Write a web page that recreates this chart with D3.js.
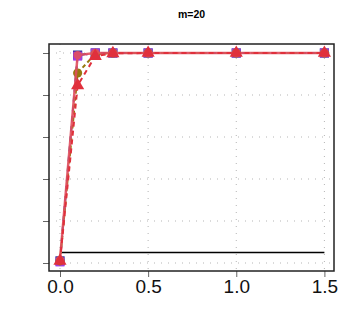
<!DOCTYPE html>
<html>
<head>
<meta charset="utf-8">
<script src="https://cdn.jsdelivr.net/npm/d3@7"></script>
<style>
  body { margin: 0; background: #fff; }
  svg { display: block; font-family: 'Liberation Sans', Arial, sans-serif; }
</style>
</head>
<body>
<div id="chart"></div>
<script>
const title = 'm=20';
const xValues = [0, 0.1, 0.2, 0.3, 0.5, 1.0, 1.5];
const xTicks = [0, 0.5, 1.0, 1.5];
const yTicks = [0, 0.2, 0.4, 0.6, 0.8, 1.0];
const nominalLevel = 0.05;

const blueSquares = [0.01, 0.99, 1, 1, 1, 1, 1];
const purpleSquares = [0.005, 0.985, 1, 1, 1, 1, 1];
const oliveCircles = [0.01, 0.905, 0.995, 1, 1, 1, 1];
const redCircles = [0.015, 0.99, 1, 1, 1, 1, 1];
const redTriangles = [0.01, 0.845, 0.985, 0.998, 1, 1, 1];

// drawing order follows the picture: triangles end up on top
const series = [
  { values: blueSquares, color: '#2b2f8f', shape: d3.symbolSquare, size: 85, dash: '5,5', width: 2, opacity: 1 },
  { values: purpleSquares, color: '#a43be0', shape: d3.symbolSquare, size: 80, dash: '2,3', width: 1.5, opacity: 1 },
  { values: oliveCircles, color: '#96780f', shape: d3.symbolCircle, size: 65, dash: '4,3', width: 2, opacity: 1 },
  { values: redCircles, color: '#e2505e', shape: d3.symbolCircle, size: 55, dash: null, width: 2.5, opacity: 0.9 },
  { values: redTriangles, color: '#e0303c', shape: d3.symbolTriangle, size: 75, dash: '5,4', width: 2, opacity: 1 }
];

const width = 360;
const height = 327;
const box = { left: 49, right: 334, top: 44, bottom: 271 };

const svg = d3.select('#chart')
  .append('svg')
    .attr('width', width)
    .attr('height', height);

const x = d3.scaleLinear().domain([0, 1.5]).range([60, 324.4]);
const y = d3.scaleLinear().domain([0, 1]).range([263, 53]);

// grid
const grid = svg.append('g').attr('class', 'grid');
grid.selectAll('line.gx')
  .data(xTicks)
  .enter().append('line')
    .attr('x1', (d) => x(d)).attr('x2', (d) => x(d))
    .attr('y1', box.top).attr('y2', box.bottom)
    .attr('stroke', '#b5b5b5')
    .attr('stroke-width', 1)
    .attr('stroke-dasharray', '1,6');
grid.selectAll('line.gy')
  .data(yTicks)
  .enter().append('line')
    .attr('x1', box.left).attr('x2', box.right)
    .attr('y1', (d) => y(d)).attr('y2', (d) => y(d))
    .attr('stroke', '#b5b5b5')
    .attr('stroke-width', 1)
    .attr('stroke-dasharray', '1,6');

// nominal level
svg.append('line')
  .attr('x1', x(0)).attr('x2', x(1.5))
  .attr('y1', y(nominalLevel)).attr('y2', y(nominalLevel))
  .attr('stroke', '#000')
  .attr('stroke-width', 1.3);

// series
const line = d3.line()
  .x((d) => x(d[0]))
  .y((d) => y(d[1]));

series.forEach((s) => {
  const pts = xValues.map((xv, i) => [xv, s.values[i]]);
  const g = svg.append('g').attr('opacity', s.opacity);
  g.append('path')
    .datum(pts)
    .attr('d', line)
    .attr('fill', 'none')
    .attr('stroke', s.color)
    .attr('stroke-width', s.width)
    .attr('stroke-dasharray', s.dash);
  g.selectAll('path.pt')
    .data(pts)
    .enter().append('path')
      .attr('class', 'pt')
      .attr('d', d3.symbol().type(s.shape).size(s.size))
      .attr('transform', (d) => 'translate(' + x(d[0]) + ',' + y(d[1]) + ')')
      .attr('fill', s.color);
});

// axes
const xAxis = svg.append('g')
  .attr('transform', 'translate(0,' + box.bottom + ')')
  .call(d3.axisBottom(x).tickValues(xTicks).tickFormat(d3.format('.1f')).tickSize(6).tickPadding(3));
xAxis.select('.domain').remove();
xAxis.selectAll('line').attr('stroke', '#666');
xAxis.selectAll('text')
  .attr('font-size', 19)
  .attr('fill', '#111')
  .attr('font-family', "'Liberation Sans', Arial, sans-serif");

const yAxis = svg.append('g')
  .attr('transform', 'translate(' + box.left + ',0)')
  .call(d3.axisLeft(y).tickValues(yTicks).tickFormat('').tickSize(6));
yAxis.select('.domain').remove();
yAxis.selectAll('line').attr('stroke', '#666');

// box
svg.append('rect')
  .attr('x', box.left).attr('y', box.top)
  .attr('width', box.right - box.left).attr('height', box.bottom - box.top)
  .attr('fill', 'none')
  .attr('stroke', '#222')
  .attr('stroke-width', 1.5);

// title
svg.append('text')
  .attr('x', (box.left + box.right) / 2)
  .attr('y', 18)
  .attr('text-anchor', 'middle')
  .attr('font-size', 10.5)
  .attr('font-weight', 'bold')
  .text(title);
</script>
</body>
</html>
